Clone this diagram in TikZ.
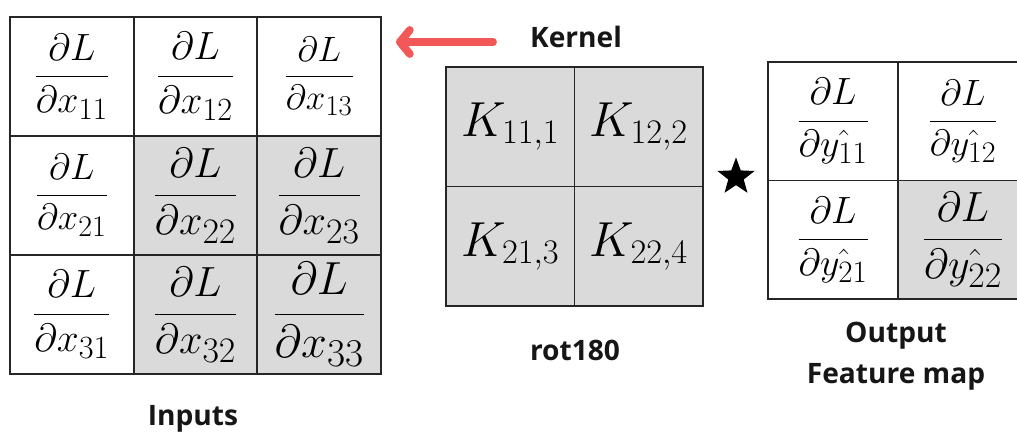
\RequirePackage{fix-cm}
\documentclass[tikz,border=0pt]{standalone}
\usepackage{fontspec}
\usetikzlibrary{arrows.meta,shapes.geometric}
\newfontfamily\labelfont{Open Sans}
\definecolor{cellgray}{RGB}{218,218,218}
\definecolor{gridink}{RGB}{38,38,38}
\definecolor{labelink}{RGB}{22,22,22}
\definecolor{kernelred}{RGB}{242,88,88}
\DeclareMathSizes{25}{25}{20.5}{15}
\DeclareMathSizes{26}{26}{21.3}{15.5}
\DeclareMathSizes{27}{27}{22.1}{16}
\DeclareMathSizes{28}{28}{23}{16.5}
\DeclareMathSizes{30}{30}{25.5}{18}
\DeclareMathSizes{33}{33}{28}{20}
\newcommand{\dLd}[1]{$\displaystyle\frac{\partial L}{\partial #1}$}

\begin{document}
\begin{tikzpicture}[x=0.025cm, y=-0.025cm,
    ingrid/.style={draw=gridink, line width=1.3pt, inner sep=0pt,
        minimum width=3.0925cm, minimum height=2.975cm},
    kgrid/.style={draw=gridink, line width=1.3pt, inner sep=0pt, fill=cellgray,
        minimum width=3.2125cm, minimum height=2.9875cm,
        font=\fontsize{35}{40}\selectfont},
    outgrid/.style={draw=gridink, line width=1.3pt, inner sep=0pt,
        minimum width=3.25cm, minimum height=2.9625cm},
    caption/.style={text=labelink, font=\labelfont\bfseries\fontsize{20}{29}\selectfont},
    redarrow/.style={draw=kernelred, line width=5.6pt, line cap=round,
        -{Straight Barb[round, length=7pt, width=17pt]}}]
    \clip (0,0) rectangle (1017,433);

    \foreach \r/\c/\f/\s in {1/1/white/27,1/2/white/28,1/3/white/25,
                             2/1/white/26,2/2/cellgray/30,2/3/cellgray/30,
                             3/1/white/28,3/2/cellgray/30,3/3/cellgray/33}
        \node[ingrid, fill=\f, font=\fontsize{\s}{\s}\selectfont] (x\r\c)
            at ({10+123.7*(\c-0.5)},{17+119*(\r-0.5)}) {\dLd{x_{\r\c}}};

    \foreach \r/\c/\k in {1/1/1,1/2/2,2/1/3,2/2/4}
        \node[kgrid] (k\r\c) at ({446+128.5*(\c-0.5)},{67+119.5*(\r-0.5)}) {$K_{\r\c,\k}$};

    \foreach \r/\c/\f/\s in {1/1/white/27,1/2/white/26,2/1/white/27,2/2/cellgray/30}
        \node[outgrid, fill=\f, font=\fontsize{\s}{\s}\selectfont] (y\r\c)
            at ({768+130*(\c-0.5)},{62+118.5*(\r-0.5)}) {\dLd{\hat{y_{\r\c}}}};

    \node[star, star points=5, star point ratio=2.4, fill=black, inner sep=0pt,
        minimum size=0.975cm] (conv) at (736,177) {};

    \node[caption, anchor=base] (kernel) at (576,48) {Kernel};
    \node[caption, anchor=base] (rot) at (575,360) {rot180};
    \node[caption, align=center] (fmap) at (896,356) {Output\\Feature map};
    \node[caption, anchor=base] (inputs) at (193,425) {Inputs};

    \coordinate (arrtail) at (493,42);
    \coordinate (arrtip) at (396,42);
    \draw[redarrow] (arrtail) -- (arrtip);
\end{tikzpicture}
\end{document}
